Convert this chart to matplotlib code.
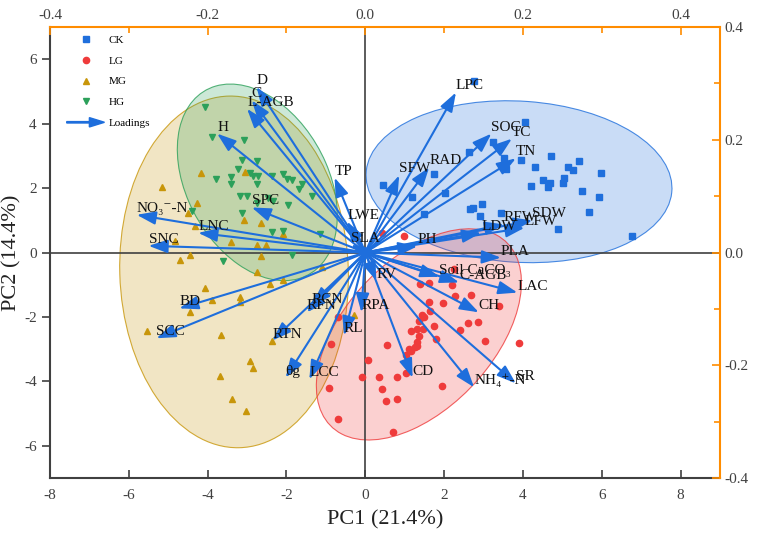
import numpy as np
import matplotlib
matplotlib.use('Agg')
import matplotlib.pyplot as plt
from matplotlib.patches import Ellipse, FancyArrow
from matplotlib.legend_handler import HandlerPatch
from matplotlib.lines import Line2D
from matplotlib.ticker import FormatStrFormatter

plt.rcParams['font.family'] = ['Liberation Serif', 'DejaVu Serif']
plt.rcParams['axes.unicode_minus'] = False

# PCA scores (PC1, PC2) per group
ck_x = [2.76, 4.06, 3.24, 2.64, 3.52, 3.95, 4.71, 5.42, 4.31, 5.15, 5.27, 5.98,
        3.57, 1.75, 0.46, 4.51, 4.69, 4.64, 4.21, 5.04, 5.02, 5.50, 5.93, 2.03,
        1.19, 1.50, 2.97, 2.66, 2.74, 2.92, 3.45, 5.68, 4.89, 6.77]
ck_y = [5.33, 4.06, 3.44, 3.13, 2.94, 2.88, 3.00, 2.85, 2.66, 2.66, 2.57, 2.48,
        2.60, 2.45, 2.11, 2.26, 2.17, 2.04, 2.07, 2.32, 2.17, 1.92, 1.73, 1.86,
        1.73, 1.21, 1.52, 1.36, 1.39, 1.15, 1.24, 1.27, 0.74, 0.50]

lg_x = [0.43, 0.99, 2.26, 1.39, 1.62, 2.21, 2.28, 2.69, 1.98, 1.62, 1.65, 2.61,
        2.86, 2.41, 3.04, 3.90, 1.80, 1.44, 1.17, 1.32, 1.47, 1.37, 1.32, 1.32,
        1.27, 1.12, 1.17, 1.04, 0.56, 1.04, 0.81, 0.35, 0.43, 0.53, 0.81, 1.95,
        0.71, -0.68, -0.86, 0.08, -0.08, -0.91, -0.68, 3.40, 1.75, 1.50, 1.37]
lg_y = [0.62, 0.53, -0.50, -0.99, -0.96, -1.02, -1.36, -1.33, -1.58, -1.55, -1.80, -2.20,
        -2.14, -2.41, -2.76, -2.82, -2.69, -1.95, -2.45, -2.38, -2.38, -2.60, -2.79, -2.91,
        -2.94, -3.00, -3.07, -3.19, -2.88, -3.75, -3.87, -3.87, -4.24, -4.61, -4.55, -4.15,
        -5.57, -2.01, -2.85, -3.34, -3.87, -4.21, -5.17, -1.67, -2.29, -2.01, -2.11]

mg_x = [-5.17, -4.18, -3.04, -4.28, -4.49, -4.31, -3.09, -2.64, -3.40, -2.76, -2.51, -2.08,
        -4.84, -4.46, -4.71, -2.64, -2.74, -1.09, -2.41, -2.08, -4.06, -3.88, -3.19, -3.17,
        -4.44, -5.53, -3.65, -2.38, -2.92, -2.84, -3.68, -3.37, -3.02, -0.28]
mg_y = [2.04, 2.48, 2.51, 1.55, 1.24, 0.84, 1.02, 0.93, 0.34, 0.25, 0.25, 0.59,
        0.37, -0.09, -0.22, -0.12, -0.59, -0.46, -0.99, -0.84, -1.11, -1.46, -1.39, -1.52,
        -1.86, -2.45, -2.57, -2.76, -3.37, -3.59, -3.84, -4.55, -4.92, -1.95]

hg_x = [-4.06, -3.88, -3.09, -3.12, -2.76, -3.22, -2.92, -2.84, -2.71, -3.78, -3.42, -3.42,
        -2.76, -2.36, -2.08, -1.98, -1.85, -1.67, -1.60, -1.34, -2.46, -3.19, -2.99, -3.14,
        -2.76, -1.95, -2.33, -2.36, -2.10, -1.14, -1.85, -3.60, -4.39]
hg_y = [4.52, 3.59, 3.50, 2.88, 2.85, 2.60, 2.48, 2.38, 2.38, 2.29, 2.35, 2.14,
        2.14, 2.38, 2.45, 2.29, 2.26, 1.98, 2.14, 1.76, 1.70, 1.76, 1.76, 1.24,
        1.55, 1.49, 1.61, 0.65, 0.68, 0.59, -0.09, -0.25, 1.30]

# 95% confidence ellipses: centre x, centre y, width, height, angle
ck_ell = [3.90, 2.20, 7.78, 5.00, -5.0]
lg_ell = [1.36, -2.54, 7.32, 4.06, 57.7]
mg_ell = [-3.33, -0.60, 10.92, 5.80, -88.7]
hg_ell = [-2.74, 2.18, 6.34, 3.68, 109.4]

# loadings (top / right axes)
var_names = ['D', 'C', 'L-AGB', 'H', 'TP', 'LWE', 'SLA', 'SPC', 'NO₃⁻-N', 'LNC', 'SNC',
             'BD', 'SCC', 'RCN', 'RFN', 'RTN', 'θg', 'LCC', 'RL', 'RPA',
             'LPC', 'SFW', 'RAD', 'SOC', 'TC', 'TN', 'LDW', 'RFW', 'LFW', 'SDW', 'PH', 'PLA',
             'RV', 'Soil CaCO₃', 'C-AGB', 'LAC', 'CH', 'CD', 'NH₄⁺-N', 'SR']
load_x = [-0.138, -0.144, -0.150, -0.188, -0.039, -0.023, -0.018, -0.144, -0.290, -0.212, -0.275,
          -0.236, -0.265, -0.068, -0.074, -0.118, -0.101, -0.071, -0.027, -0.005,
          0.115, 0.043, 0.081, 0.160, 0.186, 0.191, 0.147, 0.176, 0.202, 0.212, 0.066, 0.172,
          0.014, 0.094, 0.119, 0.193, 0.144, 0.060, 0.138, 0.191]
load_y = [0.294, 0.270, 0.255, 0.211, 0.133, 0.055, 0.014, 0.080, 0.067, 0.035, 0.012,
          -0.099, -0.152, -0.094, -0.106, -0.156, -0.222, -0.225, -0.147, -0.106,
          0.284, 0.137, 0.151, 0.211, 0.202, 0.167, 0.035, 0.050, 0.044, 0.057, 0.011, -0.009,
          -0.050, -0.043, -0.053, -0.071, -0.106, -0.222, -0.239, -0.232]

c_ck = '#1f6fdc'
c_lg = '#ef3b3b'
c_mg = '#c8960a'
c_hg = '#2ca05a'
c_arrow = '#1e6edc'
c_orange = '#ff8c00'
c_axis = '#404040'

fig = plt.figure(figsize=(7.59, 5.42), dpi=100)
ax = fig.add_axes([0.0659, 0.118, 0.8827, 0.832])
ax.set_xlim(-8, 9)
ax.set_ylim(-7, 7)

# ellipses
for ell, col, z in [(mg_ell, c_mg, 1), (hg_ell, c_hg, 1.1), (ck_ell, c_ck, 1.2), (lg_ell, c_lg, 1.3)]:
    e = Ellipse((ell[0], ell[1]), ell[2], ell[3], angle=ell[4],
                facecolor=col, alpha=0.24, edgecolor='none', zorder=z)
    ax.add_patch(e)
    e2 = Ellipse((ell[0], ell[1]), ell[2], ell[3], angle=ell[4],
                 facecolor='none', edgecolor=col, lw=0.8, alpha=0.8, zorder=z)
    ax.add_patch(e2)

ax.axhline(0, color=c_axis, lw=1.2, zorder=1.5)
ax.axvline(0, color=c_axis, lw=1.2, zorder=1.5)

ax.plot(ck_x, ck_y, 's', color=c_ck, ms=4, ls='none', zorder=3)
ax.plot(lg_x, lg_y, 'o', color=c_lg, ms=4.5, ls='none', zorder=3)
ax.plot(mg_x, mg_y, '^', color=c_mg, ms=5, ls='none', zorder=3)
ax.plot(hg_x, hg_y, 'v', color=c_hg, ms=5, ls='none', zorder=3)

ax.set_xticks(range(-8, 9, 2))
ax.set_yticks(range(-6, 7, 2))
ax.tick_params(axis='x', direction='in', length=6, width=1.2, color=c_axis,
               labelcolor=c_axis, labelsize=11, pad=8)
ax.tick_params(axis='y', direction='out', length=6, width=1.2, color=c_axis,
               labelcolor=c_axis, labelsize=11)
for s in ['left', 'bottom']:
    ax.spines[s].set_color(c_axis)
    ax.spines[s].set_linewidth(1.5)
for s in ['top', 'right']:
    ax.spines[s].set_visible(False)
ax.set_xlabel('PC1 (21.4%)', fontsize=16, color='#222222', labelpad=6)
ax.set_ylabel('PC2 (14.4%)', fontsize=16, color='#222222', labelpad=2)

# loadings axes
ax2 = fig.add_axes(ax.get_position())
ax2.patch.set_visible(False)
ax2.set_xlim(-0.4, 0.45)
ax2.set_ylim(-0.4, 0.4)
ax2.xaxis.tick_top()
ax2.yaxis.tick_right()
ax2.set_xticks([-0.4, -0.2, 0.0, 0.2, 0.4])
ax2.set_xticks([-0.3, -0.1, 0.1, 0.3], minor=True)
ax2.set_yticks([-0.4, -0.2, 0.0, 0.2, 0.4])
ax2.set_yticks([-0.3, -0.1, 0.1, 0.3], minor=True)
ax2.xaxis.set_major_formatter(FormatStrFormatter('%.1f'))
ax2.yaxis.set_major_formatter(FormatStrFormatter('%.1f'))
ax2.tick_params(which='major', direction='in', length=6, width=1.2, color=c_orange,
                labelcolor=c_axis, labelsize=11)
ax2.tick_params(which='minor', direction='in', length=4, width=1.2, color=c_orange)
for s in ['left', 'bottom']:
    ax2.spines[s].set_visible(False)
for s in ['top', 'right']:
    ax2.spines[s].set_color(c_orange)
    ax2.spines[s].set_linewidth(1.5)

# arrows first, labels on top
for lx, ly in zip(load_x, load_y):
    ax2.annotate('', xy=(lx, ly), xytext=(0, 0),
                 arrowprops=dict(arrowstyle='-|>,head_length=1.15,head_width=0.4',
                                 color=c_arrow, lw=1.5, mutation_scale=10,
                                 shrinkA=0, shrinkB=0))
for name, lx, ly in zip(var_names, load_x, load_y):
    ax2.text(lx, ly, name, fontsize=11, ha='left', va='bottom', color='#111111', zorder=5)


def make_arrow(legend, orig_handle, xdescent, ydescent, width, height, fontsize):
    return FancyArrow(-xdescent, height / 2 - ydescent, width, 0,
                      length_includes_head=True, width=1.0, head_width=height * 1.2,
                      head_length=width * 0.4, color=c_arrow)


arrow_handle = FancyArrow(0, 0, 1, 0, color=c_arrow)
handles = [Line2D([], [], marker='s', color=c_ck, ls='none', ms=4),
           Line2D([], [], marker='o', color=c_lg, ls='none', ms=4.5),
           Line2D([], [], marker='^', color=c_mg, ls='none', ms=5),
           Line2D([], [], marker='v', color=c_hg, ls='none', ms=5),
           arrow_handle]
ax2.legend(handles, ['CK', 'LG', 'MG', 'HG', 'Loadings'], loc='upper left',
           bbox_to_anchor=(0.01, 1.005), frameon=False, fontsize=8,
           handlelength=3.4, handletextpad=0.4, labelspacing=1.0,
           handler_map={FancyArrow: HandlerPatch(patch_func=make_arrow)})

fig.savefig('out.png', dpi=100)
